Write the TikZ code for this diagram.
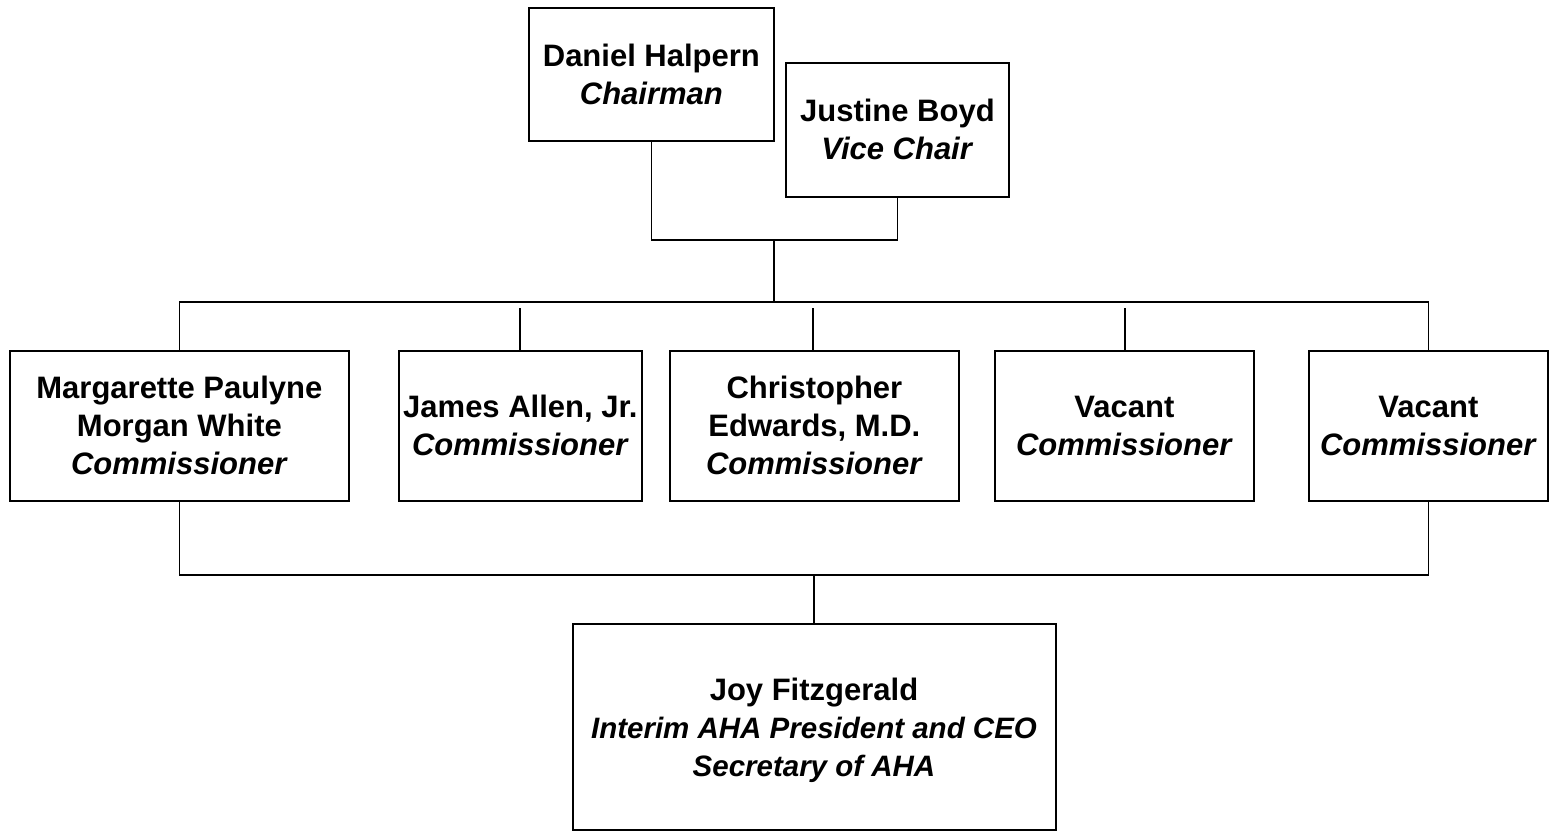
\documentclass[tikz,border=0pt]{standalone}
\usepackage{fontspec}
\setmainfont{Liberation Sans}
\begin{document}
\begin{tikzpicture}[x=1pt,y=-1pt,
  box/.style={draw=black,line width=1.8pt,inner sep=0pt,anchor=north west},
  lbl/.style={align=center,font=\fontsize{31}{38}\selectfont\bfseries},
  conn/.style={draw=black,line width=1.8pt}]
\useasboundingbox (0,0) rectangle (1549,832);
% boxes
\node[box,minimum width=245pt,minimum height=133pt] (dh) at (528,7) {};
\node[lbl] at (dh.center) {Daniel Halpern\\\textit{Chairman}};
\node[box,minimum width=223pt,minimum height=134pt] (jb) at (785,62) {};
\node[lbl] at (jb.center) {Justine Boyd\\\textit{Vice Chair}};
\node[box,minimum width=339pt,minimum height=150pt] (mw) at (9,350) {};
\node[lbl] at (mw.center) {Margarette Paulyne\\Morgan White\\\textit{Commissioner}};
\node[box,minimum width=243pt,minimum height=150pt] (ja) at (398,350) {};
\node[lbl] at (ja.center) {James Allen, Jr.\\\textit{Commissioner}};
\node[box,minimum width=289pt,minimum height=150pt] (ce) at (669,350) {};
\node[lbl] at (ce.center) {Christopher\\Edwards, M.D.\\\textit{Commissioner}};
\node[box,minimum width=259pt,minimum height=150pt] (v1) at (994,350) {};
\node[lbl] at (v1.center) {Vacant\\\textit{Commissioner}};
\node[box,minimum width=239pt,minimum height=150pt] (v2) at (1308,350) {};
\node[lbl] at (v2.center) {Vacant\\\textit{Commissioner}};
\node[box,minimum width=483pt,minimum height=206pt] (jf) at (572,623) {};
\node[lbl,anchor=center] (jft) at (814,730) {Joy Fitzgerald\\{\fontsize{29.5}{38}\selectfont\textit{Interim AHA President and CEO}}\\{\fontsize{29.5}{38}\selectfont\textit{Secretary of AHA}}};
% coordinates
\coordinate (tm) at (774,240);
\coordinate (hm) at (774,302);
\coordinate (ga) at (520,308);
\coordinate (gc) at (813,308);
\coordinate (gv) at (1125,308);
\coordinate (bm) at (814,575);
% connectors
\draw[conn] (dh.south) |- (tm) -| (jb.south);
\draw[conn] (tm) -- (hm);
\draw[conn] (mw.north) |- (hm) -| (v2.north);
\draw[conn] (ga) -- (ja.north -| ga);
\draw[conn] (gc) -- (ce.north -| gc);
\draw[conn] (gv) -- (v1.north -| gv);
\draw[conn] (mw.south) |- (bm) -| (v2.south);
\draw[conn] (bm) -- (jf.north -| bm);
\end{tikzpicture}
\end{document}
